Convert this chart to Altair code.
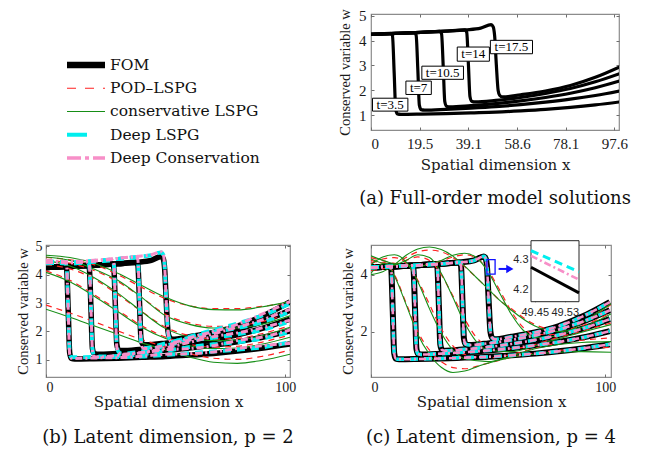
import altair as alt
import pandas as pd

# ---------------- data ----------------
TIMES = ["3.5", "7", "10.5", "14", "17.5"]
METHODS = ["FOM", "POD–LSPG", "conservative LSPG", "Deep LSPG", "Deep Conservation"]
LEGEND_ROWS = [0, 1, 2, 3, 4]

# full-order model solutions (same in all panels)
FOM_T35_X = [0, 4, 7.8, 8.6, 9.3, 9.9, 10.6, 12, 20, 30, 40, 50, 60, 70, 80, 90, 102]
FOM_T35_W = [4.25, 4.27, 4.29, 4.2, 2.7, 1.25, 1.05, 1.03, 1.04, 1.06, 1.09, 1.12, 1.17, 1.23, 1.31, 1.41, 1.56]
FOM_T7_X = [0, 10, 17.3, 18.1, 18.8, 19.4, 20.1, 21.5, 30, 40, 50, 60, 70, 80, 90, 102]
FOM_T7_W = [4.25, 4.29, 4.32, 4.22, 2.8, 1.4, 1.22, 1.2, 1.23, 1.28, 1.34, 1.42, 1.52, 1.64, 1.79, 2.02]
FOM_T105_X = [0, 10, 20, 27.5, 28.3, 29, 29.6, 30.3, 31.7, 40, 50, 60, 70, 80, 90, 102]
FOM_T105_W = [4.25, 4.29, 4.33, 4.37, 4.27, 2.9, 1.55, 1.36, 1.33, 1.38, 1.46, 1.57, 1.71, 1.88, 2.1, 2.44]
FOM_T14_X = [0, 10, 20, 30, 37.6, 38.4, 39.1, 39.7, 40.4, 41.8, 50, 60, 70, 80, 90, 102]
FOM_T14_W = [4.25, 4.29, 4.33, 4.38, 4.43, 4.33, 3.0, 1.75, 1.56, 1.53, 1.59, 1.71, 1.87, 2.07, 2.34, 2.75]
FOM_T175_X = [0, 10, 20, 30, 38, 44, 48.2, 49.0, 49.6, 50.3, 51.0, 51.6, 52.8, 60, 70, 80, 90, 102]
FOM_T175_W = [4.25, 4.29, 4.33, 4.38, 4.43, 4.5, 4.64, 4.56, 4.2, 3.0, 2.0, 1.8, 1.73, 1.82, 1.97, 2.19, 2.52, 3.04]

# panel (b): deep models read on the FOM sampling
DLSPG_B_T35 = [4.47, 4.45, 4.42, 4.3, 2.7, 1.25, 1.1, 1.09, 1.1, 1.1, 1.12, 1.18, 1.24, 1.3, 1.36, 1.44, 1.62]
DLSPG_B_T7 = [4.45, 4.4, 4.42, 4.32, 2.8, 1.4, 1.15, 1.12, 1.14, 1.2, 1.32, 1.45, 1.55, 1.62, 1.75, 1.98]
DLSPG_B_T105 = [4.42, 4.4, 4.45, 4.5, 4.4, 2.9, 1.5, 1.28, 1.22, 1.3, 1.5, 1.68, 1.78, 1.9, 2.05, 2.36]
DLSPG_B_T14 = [4.4, 4.42, 4.46, 4.55, 4.6, 4.5, 3.0, 1.7, 1.45, 1.42, 1.58, 1.78, 1.98, 2.12, 2.32, 2.7]
DLSPG_B_T175 = [4.4, 4.43, 4.48, 4.55, 4.62, 4.68, 4.78, 4.7, 4.3, 3.0, 2.0, 1.75, 1.65, 1.82, 2.05, 2.28, 2.55, 2.98]
DCONS_B_T35 = [4.5, 4.47, 4.44, 4.32, 2.7, 1.2, 1.06, 1.05, 1.07, 1.08, 1.13, 1.2, 1.22, 1.28, 1.4, 1.5, 1.58]
DCONS_B_T7 = [4.48, 4.42, 4.44, 4.34, 2.8, 1.35, 1.12, 1.1, 1.16, 1.25, 1.36, 1.4, 1.5, 1.68, 1.8, 2.05]
DCONS_B_T105 = [4.45, 4.42, 4.47, 4.52, 4.42, 2.9, 1.45, 1.25, 1.2, 1.26, 1.42, 1.62, 1.82, 1.95, 2.12, 2.4]
DCONS_B_T14 = [4.43, 4.44, 4.48, 4.57, 4.62, 4.52, 3.0, 1.65, 1.42, 1.4, 1.52, 1.7, 1.92, 2.15, 2.4, 2.78]
DCONS_B_T175 = [4.42, 4.45, 4.5, 4.57, 4.64, 4.7, 4.8, 4.72, 4.3, 3.0, 2.0, 1.72, 1.62, 1.78, 2.0, 2.25, 2.6, 3.05]

# panel (b): linear-subspace ROMs, p = 2
ROM_B_X = [0, 10, 20, 30, 40, 50, 60, 70, 80, 90, 102]
CLSPG_B_T35 = [2.78, 2.5, 2.2, 1.9, 1.6, 1.35, 1.1, 0.92, 0.88, 0.98, 1.2]
CLSPG_B_T7 = [4.08, 3.75, 3.25, 2.7, 2.15, 1.75, 1.5, 1.4, 1.42, 1.55, 1.8]
CLSPG_B_T105 = [4.5, 4.3, 3.9, 3.35, 2.7, 2.1, 1.8, 1.68, 1.7, 1.85, 2.15]
CLSPG_B_T14 = [4.62, 4.5, 4.2, 3.8, 3.2, 2.55, 2.25, 2.12, 2.12, 2.25, 2.55]
CLSPG_B_T175 = [4.68, 4.6, 4.4, 4.05, 3.62, 3.2, 2.9, 2.77, 2.76, 2.86, 3.05]
POD_B_T35 = [2.93, 2.65, 2.35, 2.02, 1.72, 1.45, 1.22, 1.06, 1.02, 1.12, 1.35]
POD_B_T7 = [4.13, 3.8, 3.3, 2.75, 2.2, 1.8, 1.55, 1.45, 1.48, 1.62, 1.88]
POD_B_T105 = [4.35, 4.2, 3.85, 3.3, 2.7, 2.15, 1.85, 1.73, 1.76, 1.92, 2.2]
POD_B_T14 = [4.52, 4.4, 4.15, 3.75, 3.2, 2.6, 2.3, 2.18, 2.2, 2.35, 2.62]
POD_B_T175 = [4.6, 4.52, 4.35, 4.0, 3.55, 3.15, 2.9, 2.8, 2.8, 2.88, 3.02]

# panel (c): linear-subspace ROMs, p = 4
ROM_C_T35_X = [0, 3, 6, 10, 15, 20, 25, 30, 35, 40, 48, 60, 75, 90, 102.5]
CLSPG_C_T35 = [4.05, 4.3, 4.4, 3.95, 2.95, 1.9, 1.2, 0.75, 0.57, 0.62, 0.85, 1.1, 1.25, 1.3, 1.28]
POD_C_T35 = [4.2, 4.4, 4.42, 4.0, 3.0, 2.0, 1.35, 0.95, 0.74, 0.7, 0.85, 1.1, 1.3, 1.4, 1.45]
ROM_C_T7_X = [0, 5, 10, 15, 20, 25, 30, 35, 40, 50, 60, 70, 80, 90, 102.5]
CLSPG_C_T7 = [4.35, 4.62, 4.7, 4.45, 3.75, 2.8, 1.95, 1.35, 1.05, 0.95, 1.15, 1.4, 1.55, 1.62, 1.65]
POD_C_T7 = [4.4, 4.55, 4.6, 4.4, 3.8, 2.95, 2.1, 1.5, 1.2, 1.08, 1.2, 1.42, 1.6, 1.7, 1.78]
ROM_C_T105_X = [0, 5, 10, 15, 20, 25, 30, 35, 40, 45, 50, 60, 70, 80, 90, 102.5]
CLSPG_C_T105 = [4.55, 4.4, 4.35, 4.5, 4.7, 4.6, 4.05, 3.2, 2.3, 1.65, 1.35, 1.3, 1.5, 1.75, 1.98, 2.25]
POD_C_T105 = [4.5, 4.4, 4.38, 4.5, 4.62, 4.5, 4.0, 3.25, 2.45, 1.8, 1.5, 1.4, 1.55, 1.8, 2.02, 2.3]
ROM_C_T14_X = [0, 5, 10, 15, 20, 25, 30, 35, 40, 45, 50, 55, 60, 70, 80, 90, 102.5]
CLSPG_C_T14 = [4.0, 4.1, 4.35, 4.68, 4.9, 4.97, 4.88, 4.65, 4.3, 3.9, 3.5, 3.1, 2.75, 2.2, 2.0, 2.15, 2.62]
POD_C_T14 = [4.15, 4.2, 4.35, 4.6, 4.8, 4.86, 4.8, 4.6, 4.28, 3.9, 3.5, 3.1, 2.8, 2.25, 2.05, 2.2, 2.68]
ROM_C_T175_X = [0, 10, 20, 30, 35, 40, 45, 50, 55, 60, 65, 70, 80, 90, 102.5]
CLSPG_C_T175 = [4.66, 4.38, 4.3, 4.5, 4.68, 4.75, 4.6, 4.1, 3.35, 2.6, 2.05, 1.8, 1.85, 2.3, 2.98]
POD_C_T175 = [4.6, 4.4, 4.32, 4.48, 4.62, 4.7, 4.58, 4.15, 3.45, 2.7, 2.15, 1.9, 1.9, 2.3, 2.95]

# time labels in panel (a): boxes in data units
LABEL_TEXT = ["t=3.5", "t=7", "t=10.5", "t=14", "t=17.5"]
LABEL_X0 = [0.6, 14.0, 20.4, 34.6, 47.9]
LABEL_X1 = [14.8, 24.2, 37.1, 47.5, 64.8]
LABEL_Y0 = [1.16, 1.83, 2.44, 3.17, 3.47]
LABEL_Y1 = [1.68, 2.37, 2.97, 3.74, 4.01]

# zoom box and arrow in panel (c)
ZOOM_X = [49.5, 53.0]
ZOOM_W = [4.02, 4.53]
ARROW_X = [54.5, 59.3]
ARROW_W = [4.2]

# inset of panel (c)
INSET_XDOM = [49.44, 49.568]
INSET_YDOM = [4.161, 4.363]
INSET_X = [49.44, 49.568]
INSET_FOM = [4.275, 4.19]
INSET_DLSPG = [4.33, 4.26]
INSET_DCONS = [4.313, 4.234]

# axis ticks
A_XTICKS = [0, 19.5, 39.1, 58.6, 78.1, 97.6]
A_YTICKS = [1, 2, 3, 4, 5]
B_XTICKS = [0, 100]
B_YTICKS = [1, 2, 3, 4, 5]
C_XTICKS = [0, 100]
C_YTICKS = [2, 4]
INSET_XTICKS = [49.45, 49.53]
INSET_YTICKS = [4.2, 4.3]

# ---------------- helpers ----------------
SERIF = "Liberation Serif"
WIDE = "DejaVu Serif"
SANS = "Liberation Sans"
FRAME = "#8c8c8c"
TICK = "#6e6e6e"
INK = "#1a1a1a"
COL = {"FOM": "#000000", "POD–LSPG": "#ff2020", "conservative LSPG": "#168e16",
       "Deep LSPG": "#00eeee", "Deep Conservation": "#f78fc8"}


def frame(xs_list, ws_list):
    rows = []
    for t, xs, ws in zip(TIMES, xs_list, ws_list):
        for x, w in zip(xs, ws):
            rows.append({"t": t, "x": x, "w": w})
    return pd.DataFrame(rows)


FOM_XS = [FOM_T35_X, FOM_T7_X, FOM_T105_X, FOM_T14_X, FOM_T175_X]
fom_df = frame(FOM_XS, [FOM_T35_W, FOM_T7_W, FOM_T105_W, FOM_T14_W, FOM_T175_W])
dlspg_b = frame(FOM_XS, [DLSPG_B_T35, DLSPG_B_T7, DLSPG_B_T105, DLSPG_B_T14, DLSPG_B_T175])
dcons_b = frame(FOM_XS, [DCONS_B_T35, DCONS_B_T7, DCONS_B_T105, DCONS_B_T14, DCONS_B_T175])
clspg_b = frame([ROM_B_X] * 5, [CLSPG_B_T35, CLSPG_B_T7, CLSPG_B_T105, CLSPG_B_T14, CLSPG_B_T175])
pod_b = frame([ROM_B_X] * 5, [POD_B_T35, POD_B_T7, POD_B_T105, POD_B_T14, POD_B_T175])
C_XS = [ROM_C_T35_X, ROM_C_T7_X, ROM_C_T105_X, ROM_C_T14_X, ROM_C_T175_X]
clspg_c = frame(C_XS, [CLSPG_C_T35, CLSPG_C_T7, CLSPG_C_T105, CLSPG_C_T14, CLSPG_C_T175])
pod_c = frame(C_XS, [POD_C_T35, POD_C_T7, POD_C_T105, POD_C_T14, POD_C_T175])

# inward ticks: the axis line is moved 3px inside the frame and ticks point back to it
TK = dict(ticks=True, tickSize=3, tickColor=TICK, tickWidth=1, offset=-3, domain=False, grid=False)


def xaxis(values, lsize, lpad, tpad):
    return alt.Axis(title="Spatial dimension x", values=values, format=".1~f", labelFont=SERIF,
                    labelFontSize=lsize, labelColor=INK, titleFont=WIDE, titleFontSize=15,
                    titleFontWeight="normal", titleColor=INK, labelPadding=lpad, titlePadding=tpad,
                    orient="bottom", **TK)


def yaxis(values, lsize, lpad, tpad):
    return alt.Axis(title="Conserved variable w", values=values, format=".1~f", labelFont=SERIF,
                    labelFontSize=lsize, labelColor=INK, titleFont=SERIF, titleFontSize=14.5,
                    titleFontWeight="normal", titleColor=INK, labelPadding=lpad, titlePadding=tpad,
                    orient="left", **TK)


def mirror(values, orient):
    return alt.Axis(title=None, values=values, labels=False, orient=orient, **TK)


def scales(xdom, ydom):
    return alt.Scale(domain=xdom, nice=False, zero=False), alt.Scale(domain=ydom, nice=False, zero=False)


def lines(df, xs, ys, xa, ya, color, width, dash=None):
    kw = dict(color=color, strokeWidth=width, interpolate="monotone", clip=True)
    if dash:
        kw["strokeDash"] = dash
    return alt.Chart(df).mark_line(**kw).encode(
        x=alt.X("x:Q", scale=xs, axis=xa), y=alt.Y("w:Q", scale=ys, axis=ya), detail="t:N")


def ghost(xs, ys, xt, yt):
    # invisible copy of the FOM that only carries the top and right tick marks
    return alt.Chart(fom_df).mark_line(opacity=0).encode(
        x=alt.X("x:Q", scale=xs, axis=mirror(xt, "top")),
        y=alt.Y("w:Q", scale=ys, axis=mirror(yt, "right")), detail="t:N")


VIEW = alt.ViewBackground(stroke=FRAME, strokeWidth=1.2, fill="white")


def caption(text, offset):
    return alt.TitleParams(text=text, orient="bottom", anchor="middle", font=WIDE, fontSize=18,
                           fontWeight="normal", color="#111111", offset=offset)


# ---------------- legend panel ----------------
legend_df = pd.DataFrame({"method": METHODS, "row": LEGEND_ROWS})
ly = alt.Y("row:Q", scale=alt.Scale(domain=[-2.194, 2.796], reverse=True), axis=None)
LEG_STYLE = {"FOM": (6.5, None), "POD–LSPG": (1.2, [9, 9]), "conservative LSPG": (1.2, None),
             "Deep LSPG": (4, [20, 20]), "Deep Conservation": (3.5, [14, 4, 4, 4])}
legend_layers = []
for m in METHODS:
    wdt, dsh = LEG_STYLE[m]
    kw = dict(color=COL[m], strokeWidth=wdt)
    if dsh:
        kw["strokeDash"] = dsh
    legend_layers.append(alt.Chart(legend_df).transform_filter(alt.datum.method == m)
                         .mark_rule(**kw).encode(y=ly, x=alt.value(21), x2=alt.value(59)))
legend_layers.append(alt.Chart(legend_df).mark_text(align="left", baseline="middle", font=WIDE,
                                                    fontSize=15.5, color="#111111")
                     .encode(y=ly, x=alt.value(64), text="method:N"))
legend = alt.layer(*legend_layers).properties(
    width=247, height=116, view=alt.ViewBackground(stroke="transparent"))

# ---------------- panel (a) ----------------
axs, ays = scales([0, 99.5], [0.4, 5.07])
axa = xaxis(A_XTICKS, 15, 6, 6.5)
aya = yaxis(A_YTICKS, 15, 5, 6)
lab_df = pd.DataFrame({"label": LABEL_TEXT, "x0": LABEL_X0, "x1": LABEL_X1, "y0": LABEL_Y0, "y1": LABEL_Y1})
panel_a = alt.layer(
    lines(fom_df, axs, ays, axa, aya, "#000000", 3.2),
    alt.Chart(lab_df).mark_rect(fill="white", stroke="#000000", strokeWidth=1).encode(
        x=alt.X("x0:Q", scale=axs, axis=None), x2="x1:Q",
        y=alt.Y("y0:Q", scale=ays, axis=None), y2="y1:Q"),
    alt.Chart(lab_df).transform_calculate(xc="(datum.x0 + datum.x1) / 2", yc="(datum.y0 + datum.y1) / 2")
    .mark_text(font=SERIF, fontSize=13, color="#000000", baseline="middle").encode(
        x=alt.X("xc:Q", scale=axs, axis=None), y=alt.Y("yc:Q", scale=ays, axis=None), text="label:N"),
    ghost(axs, ays, A_XTICKS, A_YTICKS),
).resolve_axis(x="independent", y="independent").properties(
    width=248, height=116, view=VIEW, title=caption("(a) Full-order model solutions", 17))

# ---------------- panel (b) ----------------
bxs, bys = scales([0, 102], [0.4, 5.04])
bxa = xaxis(B_XTICKS, 14, 3, 0)
bya = yaxis(B_YTICKS, 14, 4, 5)
panel_b = alt.layer(
    lines(fom_df, bxs, bys, bxa, bya, COL["FOM"], 5.5),
    lines(pod_b, bxs, bys, None, None, COL["POD–LSPG"], 1.2, [6, 5]),
    lines(clspg_b, bxs, bys, None, None, COL["conservative LSPG"], 1.1),
    lines(dlspg_b, bxs, bys, None, None, COL["Deep LSPG"], 4, [8, 6]),
    lines(dcons_b, bxs, bys, None, None, COL["Deep Conservation"], 3, [7, 3, 2, 3]),
    ghost(bxs, bys, B_XTICKS, B_YTICKS),
).resolve_axis(x="independent", y="independent").properties(
    width=244, height=132, view=VIEW, title=caption("(b) Latent dimension, p = 2", 20))

# ---------------- panel (c) with its inset ----------------
cxs, cys = scales([0, 102.5], [0.41, 5.04])
cxa = xaxis(C_XTICKS, 14, 3, 0)
cya = yaxis(C_YTICKS, 14, 4, 5)
zoom_df = pd.DataFrame({"x0": [ZOOM_X[0]], "x1": [ZOOM_X[1]], "y0": [ZOOM_W[0]], "y1": [ZOOM_W[1]]})
arrow_df = pd.DataFrame({"x0": [ARROW_X[0]], "x1": [ARROW_X[1]], "w": ARROW_W})
main_c = alt.layer(
    lines(fom_df, cxs, cys, cxa, cya, COL["FOM"], 6),
    lines(pod_c, cxs, cys, None, None, COL["POD–LSPG"], 1.2, [6, 5]),
    lines(clspg_c, cxs, cys, None, None, COL["conservative LSPG"], 1.1),
    lines(fom_df, cxs, cys, None, None, COL["Deep LSPG"], 3.6, [8, 6]),
    lines(fom_df, cxs, cys, None, None, COL["Deep Conservation"], 2.6, [7, 3, 2, 3]),
    alt.Chart(zoom_df).mark_rect(fillOpacity=0, stroke="#1010ff", strokeWidth=1.3).encode(
        x=alt.X("x0:Q", scale=cxs, axis=None), x2="x1:Q", y=alt.Y("y0:Q", scale=cys, axis=None), y2="y1:Q"),
    alt.Chart(arrow_df).mark_rule(color="#1010ff", strokeWidth=2).encode(
        x=alt.X("x0:Q", scale=cxs, axis=None), x2="x1:Q", y=alt.Y("w:Q", scale=cys, axis=None)),
    alt.Chart(arrow_df).mark_point(shape="triangle-right", filled=True, size=70, color="#1010ff", opacity=1).encode(
        x=alt.X("x1:Q", scale=cxs, axis=None), y=alt.Y("w:Q", scale=cys, axis=None)),
    ghost(cxs, cys, C_XTICKS, C_YTICKS),
).resolve_axis(x="independent", y="independent")

# inset: own scales mapped onto a small pixel range inside panel (c)
ixs = alt.Scale(domain=INSET_XDOM, range=[160, 208], nice=False, zero=False)
iys = alt.Scale(domain=INSET_YDOM, range=[56.7, -4.3], nice=False, zero=False)


def iaxis(values, fmt, pad, orient, offset):
    return alt.Axis(title=None, values=values, format=fmt, labelFont=SANS, labelFontSize=11,
                    labelColor="#262626", labelPadding=pad, ticks=True, tickSize=3, tickColor="#262626",
                    tickWidth=1, domain=False, grid=False, orient=orient, offset=offset)


ixa = iaxis(INSET_XTICKS, ".2f", 5, "bottom", -78.3)
iya = iaxis(INSET_YTICKS, ".1f", 3, "left", -163)
inset_df = pd.DataFrame({"x": INSET_X * 3, "w": INSET_FOM + INSET_DLSPG + INSET_DCONS,
                         "m": ["FOM"] * 2 + ["Deep LSPG"] * 2 + ["Deep Conservation"] * 2})
ibox_df = pd.DataFrame({"x0": [INSET_XDOM[0]], "x1": [INSET_XDOM[1]], "y0": [INSET_YDOM[0]], "y1": [INSET_YDOM[1]]})
inset_layers = [alt.Chart(ibox_df).mark_rect(fill="white", stroke="#262626", strokeWidth=1).encode(
    x=alt.X("x0:Q", scale=ixs, axis=ixa), x2="x1:Q", y=alt.Y("y0:Q", scale=iys, axis=iya), y2="y1:Q")]
for m, wdt, dsh in [("FOM", 3, None), ("Deep LSPG", 3, [8, 5]), ("Deep Conservation", 2.6, [7, 3, 2, 3])]:
    kw = dict(color=COL[m], strokeWidth=wdt)
    if dsh:
        kw["strokeDash"] = dsh
    inset_layers.append(alt.Chart(inset_df).transform_filter(alt.datum.m == m).mark_line(**kw).encode(
        x=alt.X("x:Q", scale=ixs, axis=ixa), y=alt.Y("w:Q", scale=iys, axis=iya)))
inset = alt.layer(*inset_layers)

panel_c = alt.layer(main_c, inset).resolve_scale(x="independent", y="independent").properties(
    width=240, height=132, view=VIEW, title=caption("(c) Latent dimension, p = 4", 20))

# ---------------- layout ----------------
chart = alt.concat(legend, panel_a, panel_b, panel_c, columns=2,
                   spacing={"row": 115, "column": 78}, bounds="flush", align="none").properties(
    padding={"left": 6, "top": 0, "right": 0, "bottom": 0}
).configure(font=SERIF)

chart.save("out.html", embed_options={"renderer": "svg", "actions": False})
